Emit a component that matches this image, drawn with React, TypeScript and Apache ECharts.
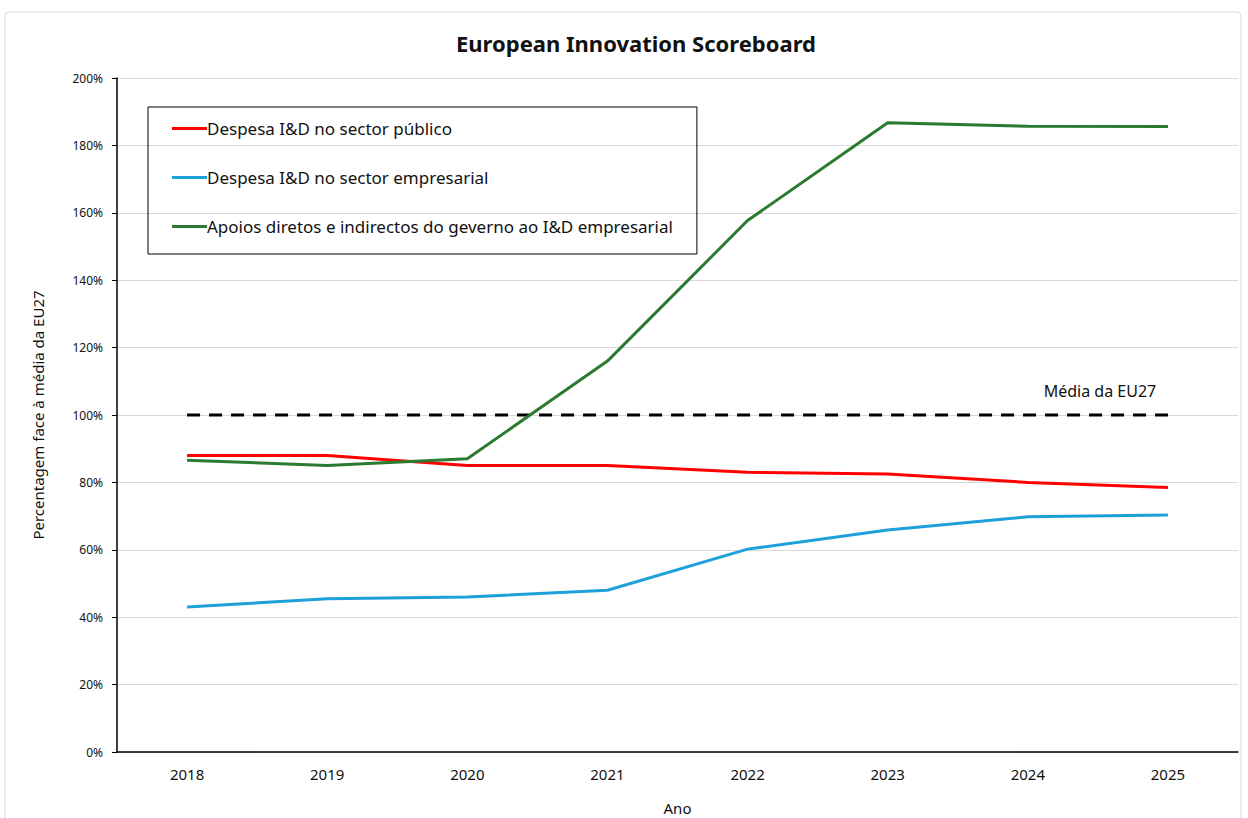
import React, { useEffect, useRef } from "react";
import * as echarts from "echarts";

const years = ["2018", "2019", "2020", "2021", "2022", "2023", "2024", "2025"];
const publicRD = [88, 88, 85, 85, 83, 82.5, 80, 78.5];
const businessRD = [43, 45.5, 46, 48, 60.2, 65.9, 69.8, 70.3];
const govSupport = [86.6, 85, 87, 116, 157.7, 186.7, 185.7, 185.6];
const euAverage = [100, 100, 100, 100, 100, 100, 100, 100];
const seriesNames = [
  "Despesa I&D no sector público",
  "Despesa I&D no sector empresarial",
  "Apoios diretos e indirectos do geverno ao I&D empresarial",
];
const avgLabel = "Média da EU27";
const yTicks = [0, 20, 40, 60, 80, 100, 120, 140, 160, 180, 200];

const FONT = "'Noto Sans', sans-serif";

export default function App() {
  const ref = useRef<HTMLDivElement>(null);
  useEffect(() => {
    if (!ref.current) return;
    const chart = echarts.init(ref.current, null, { renderer: "svg" });
    const lastIdx = euAverage.length - 1;
    chart.setOption({
      animation: false,
      backgroundColor: "#ffffff",
      textStyle: { fontFamily: FONT },
      title: {
        text: "European Innovation Scoreboard",
        left: 451,
        top: 27,
        textStyle: { fontSize: 22, fontWeight: "bold", color: "#111", fontFamily: FONT },
      },
      graphic: [
        {
          type: "rect",
          shape: { x: 5, y: 12, width: 1236, height: 830, r: 4 },
          style: { fill: "none", stroke: "#d9d9d9", lineWidth: 1 },
          silent: true,
          z: -1,
        },
      ],
      legend: {
        orient: "vertical",
        left: 148,
        top: 107,
        data: seriesNames,
        itemWidth: 35,
        itemHeight: 3,
        itemGap: 32,
        icon: "rect",
        borderColor: "#000",
        borderWidth: 1,
        padding: [13, 24, 19, 24],
        textStyle: { fontSize: 17, color: "#111", fontFamily: FONT, padding: [0, 0, 0, -5] },
      },
      grid: { left: 117, right: 10, top: 78, bottom: 66, outerBoundsMode: "none" },
      xAxis: {
        type: "category",
        data: years,
        boundaryGap: true,
        name: "Ano",
        nameLocation: "middle",
        nameGap: 48,
        nameTextStyle: { fontSize: 15, color: "#111" },
        axisLine: { lineStyle: { color: "#000", width: 1.5 } },
        axisTick: { alignWithLabel: true, length: 5, lineStyle: { color: "#000" } },
        axisLabel: { fontSize: 15, color: "#111", margin: 14 },
      },
      yAxis: {
        type: "value",
        min: 0,
        max: 200,
        interval: 20,
        name: "Percentagem face à média da EU27",
        nameLocation: "middle",
        nameGap: 72,
        nameTextStyle: { fontSize: 15, color: "#111" },
        axisLine: { show: true, lineStyle: { color: "#000", width: 1.5 } },
        axisTick: { show: true, length: 5, lineStyle: { color: "#000" } },
        axisLabel: {
          fontSize: 12,
          color: "#111",
          margin: 14,
          formatter: (v: number) => (yTicks.includes(v) ? v + "%" : ""),
        },
        splitLine: { lineStyle: { color: "#d9d9d9", width: 1 } },
      },
      series: [
        {
          name: seriesNames[0],
          type: "line",
          data: publicRD,
          showSymbol: false,
          color: "#ff0000",
          lineStyle: { width: 3, color: "#ff0000" },
          z: 3,
        },
        {
          name: seriesNames[1],
          type: "line",
          data: businessRD,
          showSymbol: false,
          color: "#1ea0da",
          lineStyle: { width: 3, color: "#1ea0da" },
          z: 3,
        },
        {
          name: seriesNames[2],
          type: "line",
          data: govSupport,
          showSymbol: false,
          color: "#2a7a30",
          lineStyle: { width: 3, color: "#2a7a30" },
          z: 4,
        },
        {
          name: avgLabel,
          type: "line",
          data: euAverage.map((v, i) =>
            i === lastIdx
              ? {
                  value: v,
                  label: {
                    show: true,
                    position: "top",
                    formatter: avgLabel,
                    offset: [-68, -11],
                    fontSize: 16,
                    color: "#111",
                    fontFamily: FONT,
                  },
                }
              : v
          ),
          showSymbol: true,
          symbol: "circle",
          symbolSize: 0,
          color: "#000",
          lineStyle: { width: 3, color: "#000", type: [13, 9] },
          z: 2,
        },
      ],
    });
    return () => chart.dispose();
  }, []);
  return (
    <div
      ref={ref}
      style={{ position: "absolute", left: 0, top: 0, width: 1248, height: 818 }}
    />
  );
}
